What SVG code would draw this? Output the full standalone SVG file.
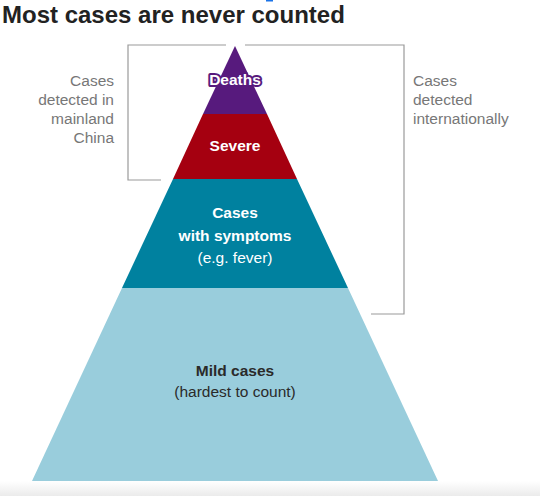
<svg xmlns="http://www.w3.org/2000/svg" width="540" height="496" viewBox="0 0 540 496">
<style>
text{font-family:"Liberation Sans",Arial,Helvetica,sans-serif;font-size:15.5px}
.b{font-weight:bold}
.w{fill:#ffffff}
.lab{fill:#777777}
.br{fill:none;stroke:#9a9a9a;stroke-width:1.2}
</style>
<defs>
<linearGradient id="fade" x1="0" y1="0" x2="0" y2="1">
<stop offset="0" stop-color="#ffffff"/>
<stop offset="1" stop-color="#ebebeb"/>
</linearGradient>
</defs>
<rect width="540" height="496" fill="#ffffff"/>
<rect x="0" y="481" width="540" height="15" fill="url(#fade)"/>
<rect x="266" y="0" width="7" height="1.5" fill="#1a73e8"/>
<text x="2" y="23" class="b" style="font-size:24px" fill="#222222">Most cases are never counted</text>

<g id="connectors">
<polyline class="br" points="226,45 128,45 128,180 161,180"/>
<polyline class="br" points="245,45 404,45 404,314 371,314"/>
</g>

<g id="mild">
<polygon points="122,288 348,288 438,481 32,481" fill="#99cddc"/>
<text x="235" y="376" class="b" text-anchor="middle" fill="#2a2a2a">Mild cases</text>
<text x="235" y="397" text-anchor="middle" fill="#2a2a2a">(hardest to count)</text>
</g>

<g id="symptoms">
<polygon points="173,179 297,179 348,288 122,288" fill="#00819f"/>
<text x="235" y="218" class="b w" text-anchor="middle">Cases</text>
<text x="235" y="241" class="b w" text-anchor="middle">with symptoms</text>
<text x="235" y="263" class="w" text-anchor="middle">(e.g. fever)</text>
</g>

<g id="severe">
<polygon points="203,114 267,114 297,179 173,179" fill="#a50010"/>
<text x="235" y="151" class="b w" text-anchor="middle">Severe</text>
</g>

<g id="deaths">
<polygon points="235,46 267,114 203,114" fill="#571a7d"/>
<text x="235" y="85" class="b w" text-anchor="middle" stroke="#571a7d" stroke-width="4" stroke-linejoin="round" paint-order="stroke">Deaths</text>
</g>

<g id="label-china">
<text class="lab" text-anchor="end" x="114" y="86">Cases</text>
<text class="lab" text-anchor="end" x="114" y="105">detected in</text>
<text class="lab" text-anchor="end" x="114" y="124">mainland</text>
<text class="lab" text-anchor="end" x="114" y="143">China</text>
</g>

<g id="label-intl">
<text class="lab" x="413" y="86">Cases</text>
<text class="lab" x="413" y="105">detected</text>
<text class="lab" x="413" y="124">internationally</text>
</g>
</svg>
